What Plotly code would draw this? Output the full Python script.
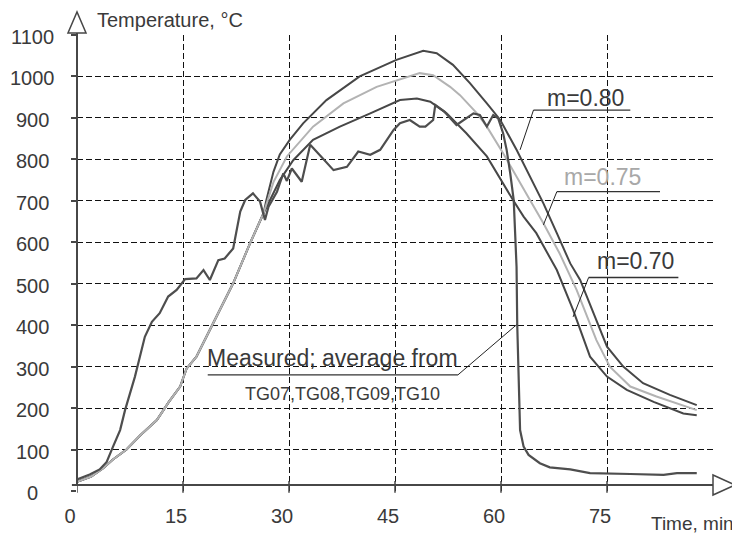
import plotly.graph_objects as go

# ---------------- data ----------------
early_t = [0, 2, 3.7, 5, 7, 9, 11.3, 13, 14.6, 15.5, 16.9, 19.3, 22.1, 24.5, 26.4]
early_T = [22, 35, 55, 75, 100, 135, 171, 215, 252, 295, 324, 405, 501, 598, 670]

m80_t = [26.8, 27.8, 28.7, 30.1, 32.0, 35.3, 40.0, 45.2, 49.0, 50.9, 53.2, 55.6, 58.0, 59.9,
         62.2, 64.1, 66.0, 67.9, 69.8, 71.2, 73.1, 75.0, 77.3, 80.1, 83.9, 87.7]
m80_T = [702, 770, 812, 847, 887, 943, 1000, 1040, 1062, 1056, 1028, 984, 935, 895,
         823, 758, 694, 622, 549, 509, 429, 348, 300, 260, 232, 207]

m75_t = [27.8, 29.7, 33.4, 37.7, 42.4, 48.5, 50.4, 52.8, 54.2, 56.6, 58.0, 60.3, 64.1,
         66.0, 68.3, 70.7, 73.5, 75.4, 78.3, 82.0, 87.7]
m75_T = [745, 807, 879, 935, 975, 1008, 1003, 975, 955, 911, 879, 815, 702,
         646, 573, 485, 364, 300, 252, 228, 195]

m70_t = [28.7, 30.6, 33.4, 37.2, 41.5, 45.7, 48.1, 50.0, 52.3, 55.1, 58.0, 60.8, 61.7,
         63.2, 65.0, 67.9, 70.2, 72.6, 75.0, 77.8, 81.6, 85.8, 87.7]
m70_T = [750, 798, 847, 879, 911, 943, 947, 939, 911, 863, 807, 726, 702,
         662, 622, 533, 437, 324, 276, 244, 215, 187, 183]

meas_t = [0, 1.8, 3.2, 4.2, 5.1, 6.1, 6.8, 7.5, 8.2, 8.9, 9.6, 10.6, 11.7, 12.9, 14.1,
          15.3, 16.9, 17.9, 18.8, 20.0, 20.9, 22.1, 22.6, 23.1, 23.8, 24.9, 25.9, 26.6,
          27.1, 28.3, 28.7, 29.2, 29.7, 30.4, 31.8, 33.0, 34.6, 36.3, 38.2, 39.8, 41.5,
          42.9, 44.8, 45.7, 47.1, 48.5, 49.3, 50.4, 50.7, 52.0, 53.7, 56.1, 57.0, 58.0,
          58.9, 59.6, 60.3, 60.8, 61.3, 61.8, 62.0, 62.2, 62.3, 62.5, 62.7, 63.2, 63.9,
          65.5, 66.9, 69.8, 72.6, 78.3, 83.0, 84.9, 87.7]
meas_T = [28, 40, 52, 70, 107, 147, 195, 236, 276, 324, 372, 408, 429, 469, 485,
          511, 513, 533, 509, 557, 561, 585, 630, 674, 702, 718, 698, 654,
          686, 722, 742, 766, 748, 778, 746, 835, 806, 774, 782, 819, 811,
          823, 871, 887, 895, 879, 879, 895, 931, 915, 883, 911, 907, 879,
          907, 899, 863, 823, 767, 702, 622, 541, 400, 270, 147, 107, 87,
          67, 57, 52, 43, 41, 39, 43, 43]

x_ticks = [0, 15, 30, 45, 60, 75, 90]
x_tick_text = ["0", "15", "30", "45", "60", "75", ""]
y_ticks = [0, 100, 200, 300, 400, 500, 600, 700, 800, 900, 1000, 1100]
y_tick_text = [str(v) for v in y_ticks]

labels = ["m=0.80", "m=0.75", "m=0.70"]
measured_label = "Measured; average from"
measured_sub = "TG07,TG08,TG09,TG10"

# ---------------- styling ----------------
FONT = "Liberation Sans, Arial, sans-serif"
DARK = "#474747"
LIGHT = "#b3b3b3"
TXT = "#3a3a3a"

fig = go.Figure()

def curve(t, T, color, name, width=2.0):
    fig.add_trace(go.Scatter(x=t, y=T, mode="lines", name=name,
                             line=dict(color=color, width=width), showlegend=False,
                             hoverinfo="skip"))

curve(early_t + m70_t, early_T + m70_T, DARK, "m=0.70")
curve(early_t + m80_t, early_T + m80_T, DARK, "m=0.80")
curve(early_t + m75_t, early_T + m75_T, LIGHT, "m=0.75")
curve(meas_t, meas_T, "#4e4e4e", "Measured", 2.2)

# ---------------- axes ----------------
fig.update_xaxes(range=[0, 90], tickmode="array", tickvals=x_ticks, ticktext=x_tick_text,
                 showgrid=True, gridcolor="#111", gridwidth=1.2, griddash="6px,3px",
                 zeroline=False, showline=False, ticks="", automargin=False,
                 tickfont=dict(family=FONT, size=20, color=TXT),
                 ticklabelshift=-7, ticklabelstandoff=11)
fig.update_yaxes(range=[0, 1100], tickmode="array", tickvals=y_ticks, showticklabels=False,
                 showgrid=True, gridcolor="#111", gridwidth=1.2, griddash="6px,3px",
                 zeroline=False, showline=False, ticks="outside", ticklen=5, automargin=False,
                 tickcolor=DARK, tickwidth=1.5)

shapes = []
AX_Y = 0.0132   # x-axis line position (paper)
shapes.append(dict(type="line", xref="paper", yref="paper", x0=-0.008, x1=1.0,
                   y0=AX_Y, y1=AX_Y, line=dict(color=DARK, width=2)))
shapes.append(dict(type="line", xref="paper", yref="paper", x0=0, x1=0,
                   y0=AX_Y, y1=1.0044, line=dict(color=DARK, width=2)))
shapes.append(dict(type="path", xref="paper", yref="paper",
                   path="M -0.0142 1.0044 L 0.0142 1.0044 L 0 1.0504 Z",
                   fillcolor="white", line=dict(color=DARK, width=1.5)))
shapes.append(dict(type="path", xref="paper", yref="paper",
                   path=f"M 1.0 {AX_Y - 0.022} L 1.0 {AX_Y + 0.022} L 1.0346 {AX_Y} Z",
                   fillcolor="white", line=dict(color=DARK, width=1.5)))
for v in x_ticks[:-1]:
    shapes.append(dict(type="line", xref="x", yref="paper", x0=v, x1=v,
                       y0=-0.004, y1=0.022, line=dict(color=DARK, width=1.5)))

def leader(x_text0, x_text1, y_under, x_tip, y_tip, color="#333"):
    shapes.append(dict(type="line", xref="x", yref="y", x0=x_text0, x1=x_text1,
                       y0=y_under, y1=y_under, line=dict(color=color, width=1.3)))
    shapes.append(dict(type="line", xref="x", yref="y", x0=x_text0, x1=x_tip,
                       y0=y_under, y1=y_tip, line=dict(color="#222", width=1)))

leader(64.6, 78.3, 919, 62.7, 823)
leader(67.9, 82.5, 722, 66.0, 642)
leader(72.4, 85.1, 515, 70.2, 420)
shapes.append(dict(type="line", xref="x", yref="y", x0=18.5, x1=53.9, y0=280, y1=280,
                   line=dict(color="#333", width=1.3)))
shapes.append(dict(type="line", xref="x", yref="y", x0=53.9, x1=62.2, y0=280, y1=401,
                   line=dict(color="#222", width=1)))

# plot area is 636 x 456 px
annotations = []
for v, s in zip(y_ticks, y_tick_text):
    annotations.append(dict(x=-0.0692, xref="paper", y=v, yref="y", text=s, showarrow=False,
                            xanchor="center", yanchor="middle", yshift=-2,
                            font=dict(family=FONT, size=20, color=TXT)))
annotations.append(dict(x=0.0283, xref="paper", y=1.033, yref="paper", text="Temperature, °C",
                        showarrow=False, xanchor="left", yanchor="middle",
                        font=dict(family=FONT, size=20, color=TXT)))
annotations.append(dict(x=0.967, xref="paper", y=-0.0702, yref="paper", text="Time, min",
                        showarrow=False, xanchor="center", yanchor="middle",
                        font=dict(family=FONT, size=19, color=TXT)))
label_pos = [(71.9, 948, TXT), (74.4, 757, "#a8a8a8"), (79.1, 556, TXT)]
for s, (x, y, c) in zip(labels, label_pos):
    annotations.append(dict(x=x, y=y, xref="x", yref="y", text=s, showarrow=False,
                            xanchor="center", yanchor="middle",
                            font=dict(family=FONT, size=23, color=c)))
annotations.append(dict(x=36.2, y=321, xref="x", yref="y", text=measured_label,
                        showarrow=False, xanchor="center", yanchor="middle",
                        font=dict(family=FONT, size=23, color=TXT)))
annotations.append(dict(x=37.5, y=234, xref="x", yref="y", text=measured_sub,
                        showarrow=False, xanchor="center", yanchor="middle",
                        font=dict(family=FONT, size=18, color=TXT)))

# page body has an 8px margin: figure drawn from (8, 8)
fig.update_layout(width=732, height=525, margin=dict(l=69, r=27, t=27, b=42, autoexpand=False),
                  paper_bgcolor="white", plot_bgcolor="white",
                  shapes=shapes, annotations=annotations, showlegend=False)

fig.write_html("out.html")
